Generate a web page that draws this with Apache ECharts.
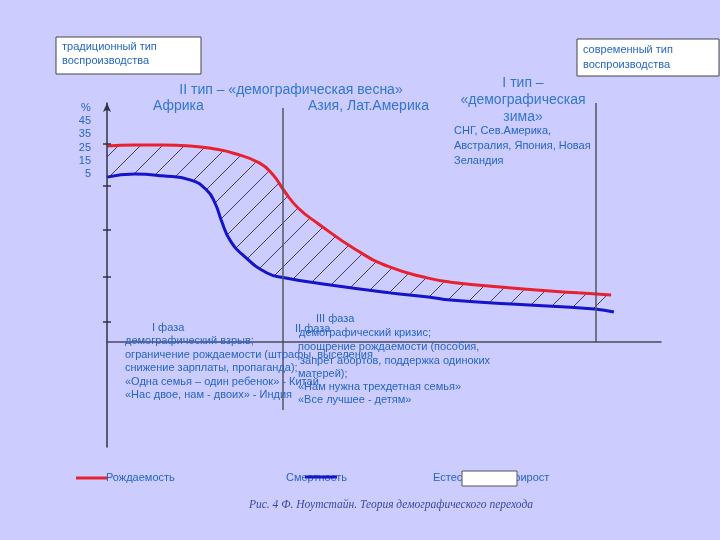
<!DOCTYPE html>
<html><head><meta charset="utf-8">
<script src="https://cdn.jsdelivr.net/npm/echarts@6/dist/echarts.min.js"></script>
<style>html,body{margin:0;padding:0;background:#ccccff}#c{width:720px;height:540px}</style>
</head><body>
<div id="c"></div>
<script>
// рождаемость и смертность (условные единицы, по рисунку)
var birthStage = [0, 5, 10, 15, 19.5, 23, 27.5, 30, 32, 34.5, 38, 45, 51, 58, 62, 73, 85, 91];
var birthRate  = [43.9, 44.1, 44.1, 43.9, 43.2, 42.2, 40.1, 37.4, 33.8, 30.0, 26.6, 20.6, 16.8, 14.3, 13.4, 12.1, 11.0, 10.5];
var deathStage = [0, 5, 10, 15, 18, 19.5, 20.7, 22.2, 24.5, 28.8, 32, 40, 51, 58, 62, 73, 88, 91.5];
var deathRate  = [36.9, 37.6, 37.2, 36.3, 34.0, 31.1, 27.0, 22.8, 19.5, 15.5, 14.4, 12.8, 11.0, 10.1, 9.4, 8.5, 7.4, 6.7];
// границы фаз
var phaseBounds = [31.8, 62.1, 88.3];
var tickMarks = [4.5, 14.5, 25.1, 34.9, 44.3];
var scaleLabels = ['%', '45', '35', '25', '15', '5'];

var BLUE = '#2666c0', BLUE2 = '#3377cc', RED = '#e8212f', DBLUE = '#1414c8', BG = '#ccccff';
var SANS = '"Liberation Sans", Arial, sans-serif';

function pairs(xs, ys) { return xs.map(function (x, i) { return [x, ys[i]]; }); }

// штриховка
var hatch = document.createElement('canvas');
hatch.width = hatch.height = 22;
var hc = hatch.getContext('2d');
hc.strokeStyle = 'rgba(0,0,0,0.85)';
hc.lineWidth = 0.8;
hc.beginPath();
hc.moveTo(0, 22); hc.lineTo(22, 0);
hc.moveTo(-2, 2); hc.lineTo(2, -2);
hc.moveTo(20, 24); hc.lineTo(24, 20);
hc.stroke();

function txt(x, y, text, size, color, extra) {
  var st = { text: text, fill: color || BLUE, font: (size || 11) + 'px ' + SANS,
    textAlign: 'left', textVerticalAlign: 'middle' };
  for (var k in (extra || {})) st[k] = extra[k];
  return { type: 'text', x: x, y: y, z: 10, style: st };
}

var graphics = [
  { type: 'rect', shape: { x: 56, y: 37, width: 145, height: 37 }, style: { fill: '#fff', stroke: '#444', lineWidth: 1 } },
  txt(62, 47, 'традиционный тип'),
  txt(62, 61, 'воспроизводства'),
  { type: 'rect', shape: { x: 577, y: 39, width: 142, height: 37 }, style: { fill: '#fff', stroke: '#444', lineWidth: 1 } },
  txt(583, 50, 'современный тип'),
  txt(583, 65, 'воспроизводства'),
  txt(291, 90, 'II тип – «демографическая весна»', 14, BLUE2, { textAlign: 'center' }),
  txt(153, 106, 'Африка', 14, BLUE2),
  txt(308, 106, 'Азия, Лат.Америка', 14, BLUE2),
  txt(523, 83, 'I тип –', 14, BLUE2, { textAlign: 'center' }),
  txt(523, 100, '«демографическая', 14, BLUE2, { textAlign: 'center' }),
  txt(523, 117, 'зима»', 14, BLUE2, { textAlign: 'center' }),
  txt(454, 131, 'СНГ, Сев.Америка,'),
  txt(454, 146, 'Австралия, Япония, Новая'),
  txt(454, 161, 'Зеландия'),
  txt(152, 328, 'I фаза'),
  txt(125, 341, 'демографический взрыв;'),
  txt(125, 355, 'ограничение рождаемости (штрафы, выселения'),
  txt(125, 368, 'снижение зарплаты, пропаганда);'),
  txt(125, 382, '«Одна семья – один ребенок» - Китай'),
  txt(125, 395, '«Нас двое, нам - двоих» - Индия'),
  txt(295, 329, 'II фаза'),
  txt(316, 319, 'III фаза'),
  txt(299, 333, 'демографический кризис;'),
  txt(298, 347, 'поощрение рождаемости (пособия,'),
  txt(300, 361, 'запрет абортов, поддержка одиноких'),
  txt(298, 374, 'матерей);'),
  txt(298, 387, '«Нам нужна трехдетная семья»'),
  txt(298, 400, '«Все лучшее - детям»'),
  // легенда
  { type: 'line', shape: { x1: 76, y1: 478, x2: 108, y2: 478 }, z: 9, style: { stroke: RED, lineWidth: 3 } },
  txt(106, 478, 'Рождаемость'),
  txt(286, 478, 'Смертность'),
  { type: 'line', shape: { x1: 305, y1: 477, x2: 337, y2: 477 }, z: 11, style: { stroke: DBLUE, lineWidth: 3 } },
  txt(433, 478, 'Естественный прирост'),
  { type: 'rect', shape: { x: 462, y: 471, width: 55, height: 15 }, z: 12, style: { fill: '#fff', stroke: '#555', lineWidth: 1 } },
  txt(391, 505, 'Рис. 4 Ф. Ноутстайн. Теория демографического перехода', 11.5, '#3a4a9a',
    { textAlign: 'center', font: 'italic 11.5px "Liberation Serif", "Times New Roman", serif' })
];
scaleLabels.forEach(function (s, i) {
  graphics.push(txt(i === 0 ? 86 : 91, 108 + i * 13.2, s, 11, BLUE, { textAlign: i === 0 ? 'center' : 'right' }));
});

var chart = echarts.init(document.getElementById('c'), null, { renderer: 'canvas' });
chart.setOption({
  backgroundColor: BG,
  animation: false,
  grid: { left: 107, right: 59, top: 103, bottom: 93 },
  xAxis: {
    type: 'value', min: 0, max: 100, z: 6,
    axisLine: { onZero: true, lineStyle: { color: '#4a4a5a', width: 1.5 } },
    axisTick: { show: false }, axisLabel: { show: false }, splitLine: { show: false }
  },
  yAxis: [{
    type: 'value', min: -23.5, max: 53.5, z: 6,
    axisLine: { show: true, symbol: ['none', 'arrow'], symbolSize: [6, 9], lineStyle: { color: '#333344', width: 1.5 } },
    axisTick: { show: true, customValues: tickMarks, length: 4, lineStyle: { color: '#333344', width: 1.5 } },
    axisLabel: { show: false }, splitLine: { show: false }
  }, {
    type: 'value', min: -23.5, max: 53.5, position: 'left', z: 6,
    axisLine: { show: false },
    axisTick: { show: true, inside: true, customValues: tickMarks, length: 4, lineStyle: { color: '#333344', width: 1.5 } },
    axisLabel: { show: false }, splitLine: { show: false }
  }],
  series: [{
    name: 'Рождаемость', type: 'line', z: 2,
    data: pairs(birthStage, birthRate),
    smooth: 0.5, showSymbol: false,
    lineStyle: { color: RED, width: 3 },
    areaStyle: { color: { image: hatch, repeat: 'repeat' }, opacity: 1 }
  }, {
    name: 'Смертность', type: 'line', z: 3,
    data: pairs(deathStage, deathRate),
    smooth: 0.5, showSymbol: false,
    lineStyle: { color: DBLUE, width: 3 },
    areaStyle: { color: BG, opacity: 1 }
  }, {
    type: 'line', z: 5, data: [],
    markLine: {
      silent: true, symbol: 'none', label: { show: false },
      lineStyle: { color: '#555560', width: 1.5, type: 'solid' },
      data: [
        [{ coord: [phaseBounds[0], 52.4] }, { coord: [phaseBounds[0], -15.2] }],
        [{ coord: [phaseBounds[1], 53.7] }, { coord: [phaseBounds[1], -15.2] }],
        [{ coord: [phaseBounds[2], 53.5] }, { coord: [phaseBounds[2], 0] }]
      ]
    }
  }],
  graphic: graphics
});
</script>
</body></html>
